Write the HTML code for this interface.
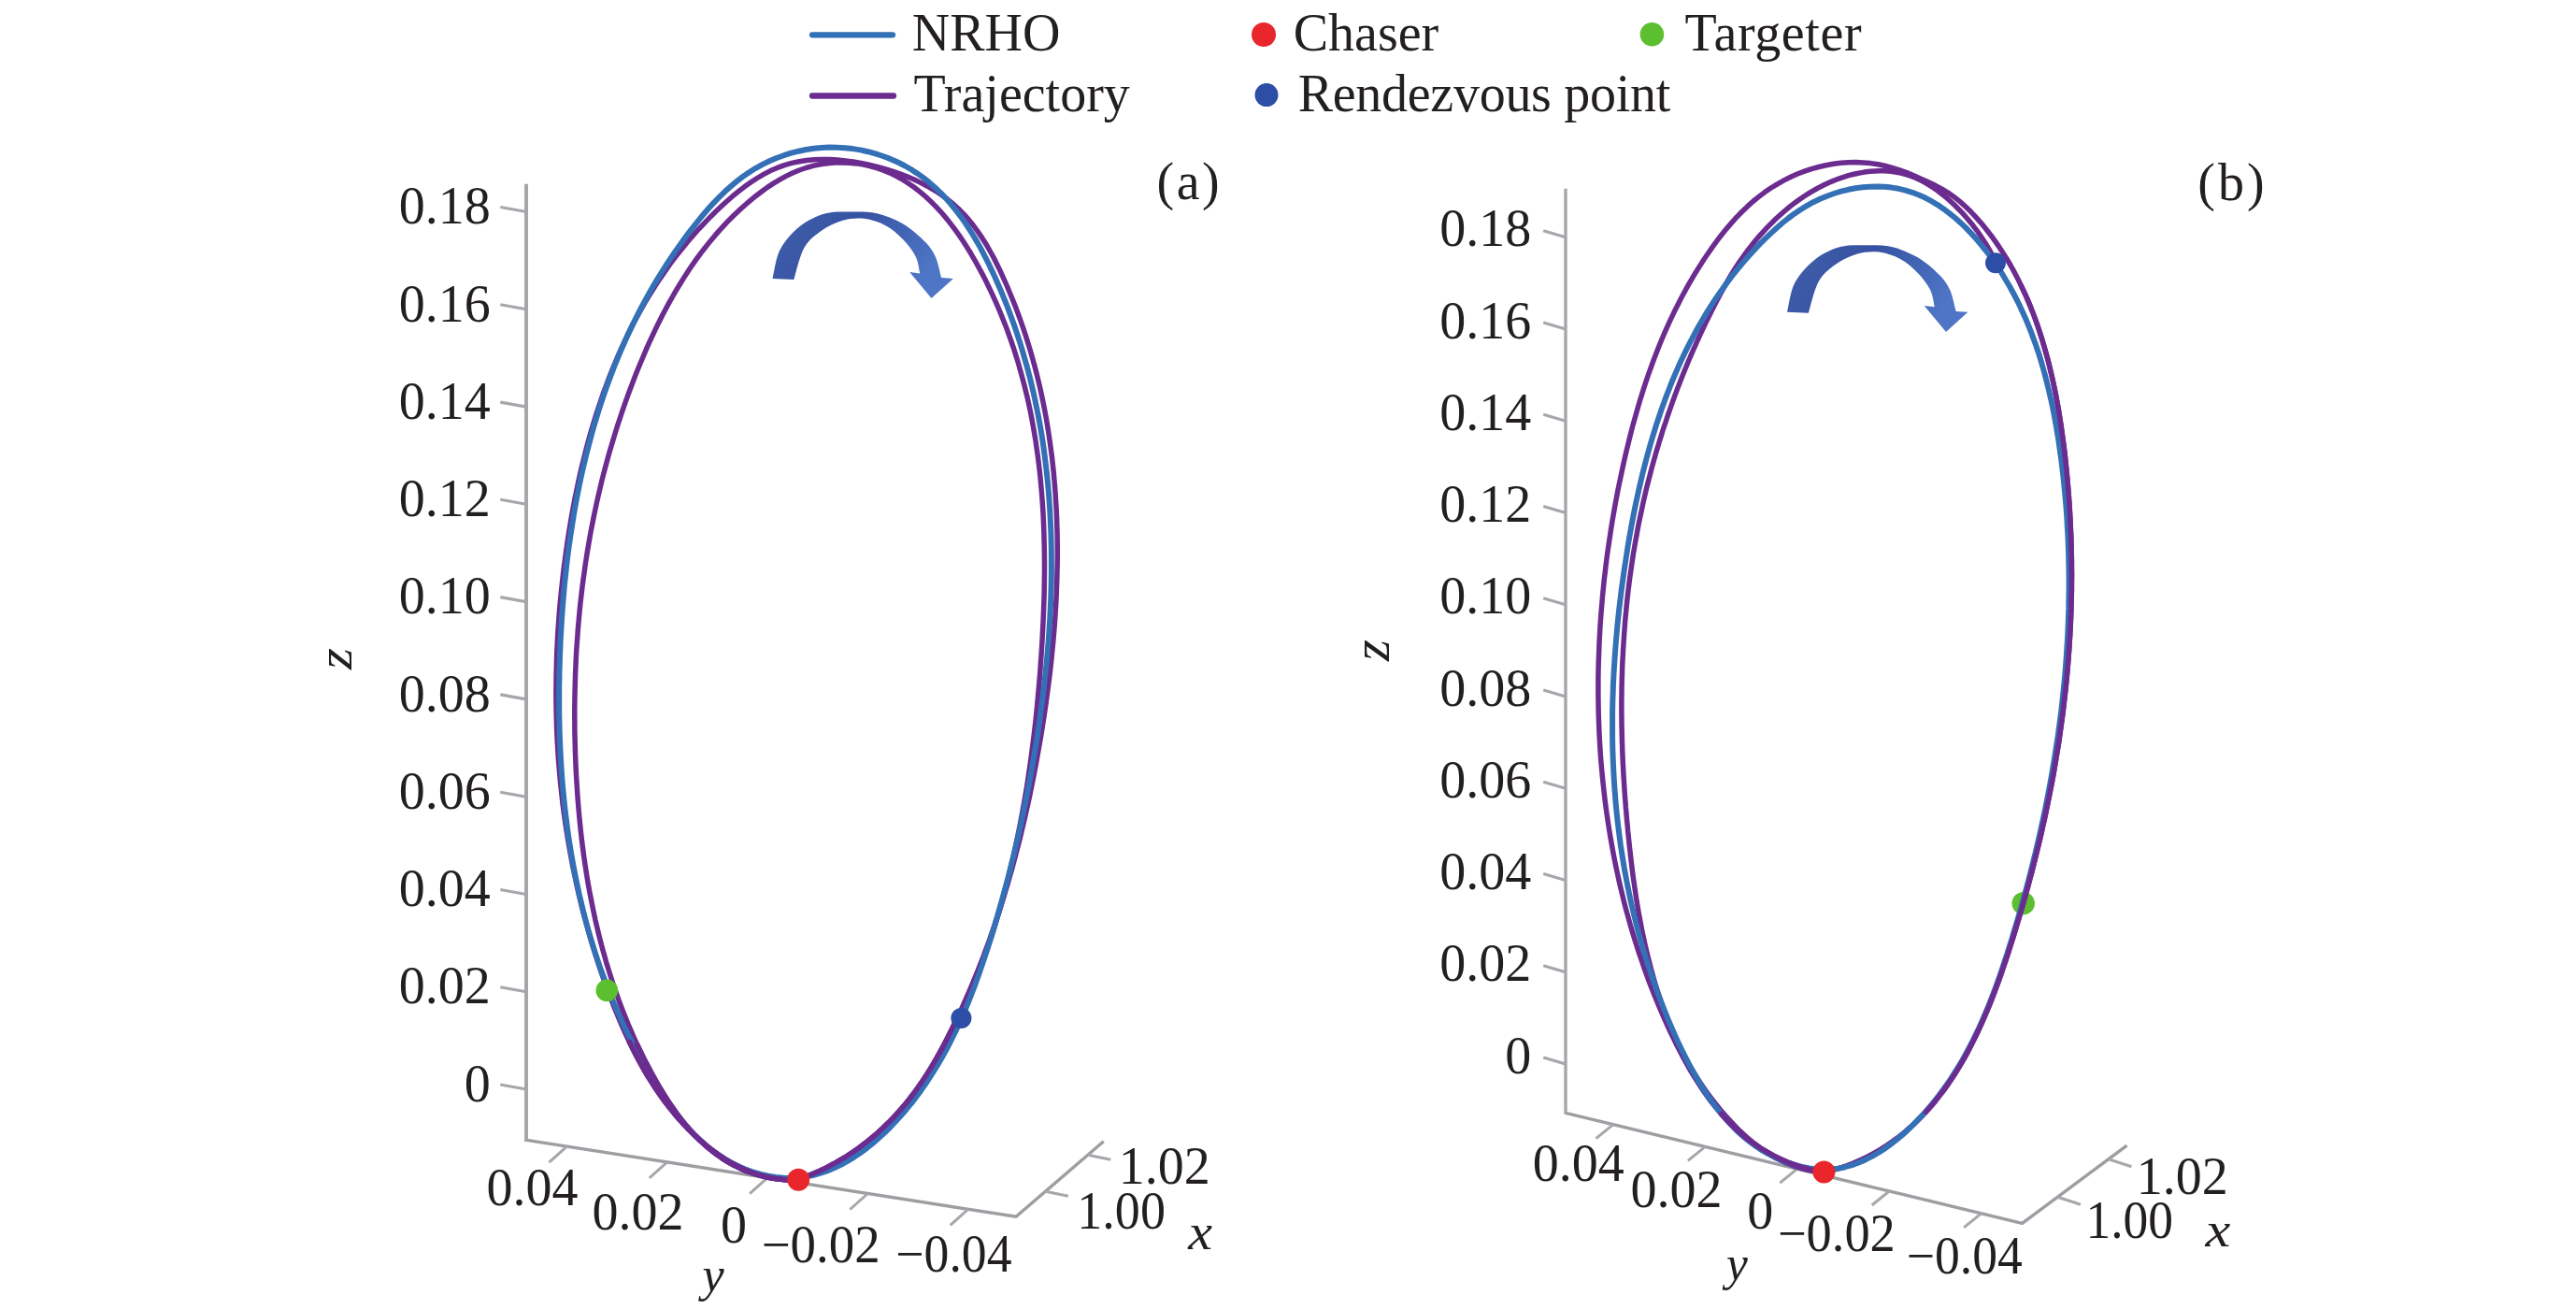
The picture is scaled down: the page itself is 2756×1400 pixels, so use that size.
<!DOCTYPE html><html><head><meta charset="utf-8"><style>html,body{margin:0;padding:0;background:#fff;}svg{display:block;}text{font-family:"Liberation Serif",serif;fill:#231f20;}</style></head><body>
<svg width="2756" height="1400" viewBox="0 0 2756 1400">
<rect width="2756" height="1400" fill="#fff"/>
<line x1="869" y1="37.3" x2="955" y2="37.3" stroke="#3370b5" stroke-width="6.3" stroke-linecap="round"/>
<line x1="869" y1="102.5" x2="956" y2="102.5" stroke="#6c2b8f" stroke-width="6.3" stroke-linecap="round"/>
<text x="975.7" y="54.3" font-size="56">NRHO</text>
<text x="977.6" y="118.8" font-size="56">Trajectory</text>
<circle cx="1352" cy="37" r="13" fill="#e8262b"/>
<text x="1383.7" y="54.3" font-size="56">Chaser</text>
<circle cx="1767.4" cy="36.7" r="12.8" fill="#5cbf2f"/>
<text x="0" y="0" font-size="56" letter-spacing="0.63" transform="translate(1802.50,54.00) scale(1.0000,1.0000)">Targeter</text>
<circle cx="1355" cy="101.6" r="12.5" fill="#2c4ea6"/>
<text x="0" y="0" font-size="56" letter-spacing="-0.28" transform="translate(1388.70,118.80) scale(1.0000,1.0000)">Rendezvous point</text>
<path d="M563.0 196.7 L563.0 1220.9" fill="none" stroke="#a6a7ab" stroke-width="4.0"/>
<path d="M563.5 1219.4 L1087.0 1301.3 L1180.7 1220.7" fill="none" stroke="#9d9ea2" stroke-width="3.4" stroke-linejoin="miter"/>
<line x1="563.0" y1="226.5" x2="535.3" y2="221.5" stroke="#a6a7ab" stroke-width="3.2"/>
<text x="524.8" y="239.2" font-size="56" text-anchor="end">0.18</text>
<line x1="563.0" y1="330.8" x2="535.3" y2="325.8" stroke="#a6a7ab" stroke-width="3.2"/>
<text x="524.8" y="343.5" font-size="56" text-anchor="end">0.16</text>
<line x1="563.0" y1="435.1" x2="535.3" y2="430.1" stroke="#a6a7ab" stroke-width="3.2"/>
<text x="524.8" y="447.8" font-size="56" text-anchor="end">0.14</text>
<line x1="563.0" y1="539.3" x2="535.3" y2="534.3" stroke="#a6a7ab" stroke-width="3.2"/>
<text x="524.8" y="552.0" font-size="56" text-anchor="end">0.12</text>
<line x1="563.0" y1="643.6" x2="535.3" y2="638.6" stroke="#a6a7ab" stroke-width="3.2"/>
<text x="524.8" y="656.3" font-size="56" text-anchor="end">0.10</text>
<line x1="563.0" y1="747.9" x2="535.3" y2="742.9" stroke="#a6a7ab" stroke-width="3.2"/>
<text x="524.8" y="760.6" font-size="56" text-anchor="end">0.08</text>
<line x1="563.0" y1="852.2" x2="535.3" y2="847.2" stroke="#a6a7ab" stroke-width="3.2"/>
<text x="524.8" y="864.9" font-size="56" text-anchor="end">0.06</text>
<line x1="563.0" y1="956.5" x2="535.3" y2="951.5" stroke="#a6a7ab" stroke-width="3.2"/>
<text x="524.8" y="969.2" font-size="56" text-anchor="end">0.04</text>
<line x1="563.0" y1="1060.7" x2="535.3" y2="1055.7" stroke="#a6a7ab" stroke-width="3.2"/>
<text x="524.8" y="1073.4" font-size="56" text-anchor="end">0.02</text>
<line x1="563.0" y1="1165.0" x2="535.3" y2="1160.0" stroke="#a6a7ab" stroke-width="3.2"/>
<text x="524.8" y="1177.7" font-size="56" text-anchor="end">0</text>
<line x1="606.5" y1="1226.1" x2="587.5" y2="1243.1" stroke="#a6a7ab" stroke-width="3"/>
<line x1="713.8" y1="1242.9" x2="694.8" y2="1259.9" stroke="#a6a7ab" stroke-width="3"/>
<line x1="821.1" y1="1259.7" x2="802.1" y2="1276.7" stroke="#a6a7ab" stroke-width="3"/>
<line x1="928.4" y1="1276.5" x2="909.4" y2="1293.5" stroke="#a6a7ab" stroke-width="3"/>
<line x1="1035.7" y1="1293.3" x2="1016.7" y2="1310.3" stroke="#a6a7ab" stroke-width="3"/>
<line x1="1118.5" y1="1274.2" x2="1142.9" y2="1279.2" stroke="#a6a7ab" stroke-width="3"/>
<line x1="1163.9" y1="1235.2" x2="1188.3" y2="1240.2" stroke="#a6a7ab" stroke-width="3"/>
<path d="M1675.0 201.8 L1675.0 1191.8" fill="none" stroke="#a6a7ab" stroke-width="3.4"/>
<path d="M1675.0 1190.3 L2163.5 1308.4 L2275.5 1225.1" fill="none" stroke="#9d9ea2" stroke-width="3.4" stroke-linejoin="miter"/>
<line x1="1675.0" y1="253.8" x2="1651.2" y2="246.8" stroke="#a6a7ab" stroke-width="3.2"/>
<text x="1638.2" y="263.3" font-size="56" text-anchor="end">0.18</text>
<line x1="1675.0" y1="352.0" x2="1651.2" y2="345.0" stroke="#a6a7ab" stroke-width="3.2"/>
<text x="1638.2" y="361.5" font-size="56" text-anchor="end">0.16</text>
<line x1="1675.0" y1="450.3" x2="1651.2" y2="443.3" stroke="#a6a7ab" stroke-width="3.2"/>
<text x="1638.2" y="459.8" font-size="56" text-anchor="end">0.14</text>
<line x1="1675.0" y1="548.5" x2="1651.2" y2="541.5" stroke="#a6a7ab" stroke-width="3.2"/>
<text x="1638.2" y="558.0" font-size="56" text-anchor="end">0.12</text>
<line x1="1675.0" y1="646.8" x2="1651.2" y2="639.8" stroke="#a6a7ab" stroke-width="3.2"/>
<text x="1638.2" y="656.3" font-size="56" text-anchor="end">0.10</text>
<line x1="1675.0" y1="745.0" x2="1651.2" y2="738.0" stroke="#a6a7ab" stroke-width="3.2"/>
<text x="1638.2" y="754.5" font-size="56" text-anchor="end">0.08</text>
<line x1="1675.0" y1="843.2" x2="1651.2" y2="836.2" stroke="#a6a7ab" stroke-width="3.2"/>
<text x="1638.2" y="852.7" font-size="56" text-anchor="end">0.06</text>
<line x1="1675.0" y1="941.5" x2="1651.2" y2="934.5" stroke="#a6a7ab" stroke-width="3.2"/>
<text x="1638.2" y="951.0" font-size="56" text-anchor="end">0.04</text>
<line x1="1675.0" y1="1039.7" x2="1651.2" y2="1032.7" stroke="#a6a7ab" stroke-width="3.2"/>
<text x="1638.2" y="1049.2" font-size="56" text-anchor="end">0.02</text>
<line x1="1675.0" y1="1138.0" x2="1651.2" y2="1131.0" stroke="#a6a7ab" stroke-width="3.2"/>
<text x="1638.2" y="1147.5" font-size="56" text-anchor="end">0</text>
<line x1="1726.0" y1="1202.6" x2="1707.5" y2="1217.6" stroke="#a6a7ab" stroke-width="3"/>
<line x1="1824.4" y1="1226.4" x2="1805.9" y2="1241.4" stroke="#a6a7ab" stroke-width="3"/>
<line x1="1922.8" y1="1250.2" x2="1904.3" y2="1265.2" stroke="#a6a7ab" stroke-width="3"/>
<line x1="2021.2" y1="1274.0" x2="2002.7" y2="1289.0" stroke="#a6a7ab" stroke-width="3"/>
<line x1="2119.6" y1="1297.8" x2="2101.1" y2="1312.8" stroke="#a6a7ab" stroke-width="3"/>
<line x1="2201.4" y1="1280.2" x2="2225.9" y2="1288.2" stroke="#a6a7ab" stroke-width="3"/>
<line x1="2255.9" y1="1239.7" x2="2280.4" y2="1247.7" stroke="#a6a7ab" stroke-width="3"/>
<text x="520.4" y="1289.2" font-size="56">0.04</text>
<text x="633.5" y="1315.2" font-size="56">0.02</text>
<text x="770.9" y="1329.0" font-size="56">0</text>
<text x="1196.8" y="1266.1" font-size="56">1.02</text>
<text x="1639.7" y="1263.2" font-size="56">0.04</text>
<text x="1744.5" y="1291.1" font-size="56">0.02</text>
<text x="1869.2" y="1313.8" font-size="56">0</text>
<text x="2285.8" y="1277.2" font-size="56">1.02</text>
<text x="0" y="0" font-size="56" transform="translate(814.67,1350.40) scale(0.9800,1.0000)">−0.02</text>
<text x="0" y="0" font-size="56" transform="translate(958.33,1359.60) scale(0.9580,1.0000)">−0.04</text>
<text x="0" y="0" font-size="56" transform="translate(1901.89,1338.00) scale(0.9720,1.0000)">−0.02</text>
<text x="0" y="0" font-size="56" transform="translate(2039.73,1362.20) scale(0.9570,1.0000)">−0.04</text>
<text x="0" y="0" font-size="56" transform="translate(1152.35,1314.00) scale(0.9650,1.0000)">1.00</text>
<text x="0" y="0" font-size="56" transform="translate(2231.50,1324.20) scale(0.9550,1.0000)">1.00</text>
<text x="0" y="0" font-size="56" font-style="italic" transform="translate(1271.30,1335.80) scale(1.0360,0.9800)">x</text>
<text x="0" y="0" font-size="56" font-style="italic" transform="translate(2359.50,1332.60) scale(1.0800,0.9400)">x</text>
<text x="0" y="0" font-size="56" font-style="italic" transform="translate(751.40,1381.40) scale(0.9340,0.9290)">y</text>
<text x="0" y="0" font-size="56" font-style="italic" transform="translate(1846.90,1369.40) scale(0.9200,0.9600)">y</text>
<text x="0" y="0" font-size="56" font-style="italic" transform="translate(376.20,716.10) rotate(-90) scale(1.0500,0.9600)">z</text>
<text x="0" y="0" font-size="56" font-style="italic" transform="translate(1485.80,707.00) rotate(-90) scale(1.0500,1.0000)">z</text>
<text x="0" y="0" font-size="56" letter-spacing="2.60" transform="translate(1237.40,212.70) scale(1.0000,1.0000)">(a)</text>
<text x="0" y="0" font-size="56" letter-spacing="3.00" transform="translate(2351.30,213.80) scale(1.0000,1.0000)">(b)</text>
<circle cx="2164.7" cy="966.2" r="12.2" fill="#5cbf2f"/>
<path d="M854.5 1262.0 L845.8 1262.1 L837.4 1261.6 L829.1 1260.6 L821.0 1259.0 L813.0 1256.9 L805.2 1254.3 L797.6 1251.3 L790.2 1247.8 L783.0 1244.0 L776.0 1239.8 L769.1 1235.3 L762.5 1230.5 L756.0 1225.4 L749.7 1220.1 L743.7 1214.6 L737.8 1209.0 L732.1 1203.1 L726.6 1197.1 L721.3 1190.9 L716.2 1184.5 L711.2 1178.1 L706.4 1171.4 L701.8 1164.7 L697.3 1157.8 L692.9 1150.8 L688.7 1143.7 L684.7 1136.5 L680.8 1129.2 L677.0 1121.8 L673.3 1114.3 L669.8 1106.8 L666.3 1099.2 L663.0 1091.5 L659.8 1083.8 L656.7 1076.1 L653.6 1068.3 L650.7 1060.5 L647.8 1052.7 L645.0 1044.9 L642.3 1037.0 L639.7 1029.1 L637.2 1021.3 L634.7 1013.4 L632.3 1005.4 L630.0 997.5 L627.8 989.6 L625.6 981.6 L623.5 973.7 L621.5 965.7 L619.6 957.7 L617.7 949.7 L616.0 941.7 L614.3 933.7 L612.6 925.6 L611.1 917.6 L609.6 909.5 L608.2 901.5 L606.9 893.4 L605.6 885.3 L604.4 877.2 L603.3 869.1 L602.2 861.0 L601.3 852.9 L600.4 844.7 L599.5 836.6 L598.8 828.4 L598.1 820.3 L597.4 812.1 L596.9 804.0 L596.4 795.8 L596.0 787.6 L595.6 779.4 L595.4 771.2 L595.2 763.0 L595.0 754.8 L594.9 746.6 L594.9 738.4 L595.0 730.1 L595.1 721.9 L595.3 713.7 L595.5 705.5 L595.8 697.2 L596.2 689.0 L596.6 680.7 L597.1 672.5 L597.7 664.2 L598.3 656.0 L599.0 647.7 L599.8 639.5 L600.6 631.2 L601.5 623.0 L602.4 614.7 L603.4 606.5 L604.5 598.2 L605.6 590.0 L606.8 581.7 L608.0 573.5 L609.3 565.2 L610.7 557.0 L612.1 548.8 L613.7 540.5 L615.2 532.3 L616.9 524.2 L618.6 516.0 L620.4 507.9 L622.3 499.7 L624.3 491.6 L626.3 483.6 L628.4 475.5 L630.6 467.5 L632.9 459.5 L635.3 451.6 L637.7 443.7 L640.3 435.8 L642.9 428.0 L645.6 420.2 L648.5 412.4 L651.4 404.7 L654.4 397.1 L657.5 389.5 L660.7 381.9 L664.0 374.4 L667.4 367.0 L670.9 359.6 L674.5 352.3 L678.2 345.0 L682.1 337.8 L686.0 330.7 L690.0 323.6 L694.2 316.6 L698.5 309.7 L702.9 302.8 L707.4 296.1 L712.0 289.4 L716.7 282.7 L721.6 276.2 L726.6 269.7 L731.7 263.4 L736.9 257.1 L742.3 250.9 L747.7 244.8 L753.4 238.8 L759.1 232.9 L765.0 227.0 L771.0 221.3 L777.1 215.7 L783.4 210.2 L789.9 204.9 L796.4 199.8 L803.2 195.0 L810.1 190.5 L817.1 186.4 L824.3 182.6 L831.7 179.4 L839.3 176.6 L847.1 174.4 L855.0 172.7 L863.0 171.5 L871.2 170.8 L879.4 170.5 L887.7 170.6 L896.0 171.0 L904.4 171.9 L912.8 173.0 L921.1 174.5 L929.5 176.2 L937.7 178.2 L945.9 180.4 L954.0 182.9 L962.0 185.6 L969.8 188.6 L977.5 191.8 L984.9 195.4 L992.2 199.2 L999.3 203.3 L1006.2 207.8 L1012.8 212.5 L1019.1 217.6 L1025.1 223.0 L1030.8 228.7 L1036.2 234.7 L1041.3 241.0 L1046.1 247.6 L1050.7 254.4 L1055.1 261.3 L1059.2 268.5 L1063.2 275.8 L1066.9 283.3 L1070.6 290.8 L1074.0 298.4 L1077.4 306.0 L1080.6 313.7 L1083.8 321.4 L1086.8 329.1 L1089.7 336.8 L1092.5 344.6 L1095.2 352.4 L1097.7 360.2 L1100.2 368.1 L1102.6 375.9 L1104.8 383.8 L1107.0 391.7 L1109.1 399.7 L1111.0 407.6 L1112.9 415.6 L1114.6 423.6 L1116.3 431.6 L1117.9 439.7 L1119.4 447.7 L1120.7 455.8 L1122.0 463.9 L1123.2 472.0 L1124.3 480.1 L1125.4 488.3 L1126.3 496.4 L1127.2 504.6 L1127.9 512.7 L1128.6 520.9 L1129.2 529.1 L1129.7 537.3 L1130.2 545.5 L1130.6 553.8 L1130.8 562.0 L1131.1 570.2 L1131.2 578.5 L1131.3 586.7 L1131.3 595.0 L1131.2 603.2 L1131.0 611.5 L1130.8 619.7 L1130.5 628.0 L1130.2 636.3 L1129.8 644.5 L1129.3 652.8 L1128.8 661.1 L1128.2 669.3 L1127.5 677.6 L1126.8 685.9 L1126.0 694.1 L1125.2 702.4 L1124.3 710.6 L1123.4 718.9 L1122.4 727.1 L1121.3 735.3 L1120.2 743.6 L1119.1 751.8 L1117.9 760.0 L1116.7 768.2 L1115.4 776.4 L1114.1 784.5 L1112.7 792.7 L1111.3 800.8 L1109.8 809.0 L1108.4 817.1 L1106.8 825.2 L1105.3 833.3 L1103.6 841.4 L1102.0 849.4 L1100.3 857.5 L1098.5 865.5 L1096.7 873.5 L1094.8 881.5 L1092.9 889.5 L1091.0 897.5 L1089.0 905.4 L1086.9 913.4 L1084.8 921.3 L1082.7 929.2 L1080.4 937.1 L1078.2 944.9 L1075.8 952.8 L1073.5 960.6 L1071.0 968.5 L1068.5 976.3 L1065.9 984.0 L1063.3 991.8 L1060.6 999.5 L1057.9 1007.3 L1055.0 1015.0 L1052.2 1022.7 L1049.2 1030.3 L1046.2 1038.0 L1043.1 1045.6 L1039.9 1053.2 L1036.7 1060.8 L1033.4 1068.3 L1030.1 1075.9 L1026.6 1083.4 L1023.1 1090.9 L1019.5 1098.4 L1015.8 1105.8 L1012.1 1113.2 L1008.2 1120.6 L1004.2 1127.8 L1000.1 1135.0 L995.9 1142.1 L991.5 1149.1 L987.0 1156.0 L982.3 1162.8 L977.5 1169.5 L972.5 1176.0 L967.3 1182.4 L961.9 1188.6 L956.4 1194.7 L950.6 1200.6 L944.7 1206.3 L938.7 1211.8 L932.4 1217.1 L926.0 1222.3 L919.5 1227.2 L912.7 1231.9 L905.9 1236.5 L898.9 1240.7 L891.7 1244.8 L884.4 1248.6 L877.0 1252.2 L869.4 1255.5 L861.8 1258.5 L854.0 1261.3" fill="none" stroke="#6c2b8f" stroke-width="5.5" stroke-linecap="round" stroke-linejoin="round"/>
<path d="M855.6 1261.9 L846.6 1261.9 L838.0 1261.4 L829.6 1260.5 L821.6 1259.2 L813.8 1257.4 L806.2 1255.2 L798.9 1252.6 L791.9 1249.6 L785.1 1246.3 L778.5 1242.6 L772.2 1238.6 L766.0 1234.3 L760.1 1229.7 L754.4 1224.8 L748.9 1219.7 L743.6 1214.3 L738.4 1208.7 L733.4 1202.9 L728.6 1196.9 L724.0 1190.8 L719.5 1184.4 L715.1 1178.0 L710.9 1171.4 L706.8 1164.8 L702.9 1158.0 L699.0 1151.2 L695.3 1144.3 L691.6 1137.4 L688.1 1130.4 L684.7 1123.4 L681.3 1116.4 L678.1 1109.3 L675.0 1102.2 L671.9 1095.0 L669.0 1087.8 L666.1 1080.6 L663.3 1073.3 L660.7 1066.0 L658.1 1058.7 L655.6 1051.3 L653.2 1043.9 L650.9 1036.5 L648.6 1029.1 L646.5 1021.6 L644.4 1014.1 L642.4 1006.5 L640.5 999.0 L638.7 991.4 L636.9 983.8 L635.3 976.2 L633.7 968.5 L632.2 960.9 L630.7 953.2 L629.3 945.5 L628.0 937.8 L626.8 930.1 L625.6 922.3 L624.5 914.6 L623.5 906.8 L622.5 899.1 L621.6 891.3 L620.8 883.5 L620.0 875.7 L619.3 867.9 L618.6 860.1 L618.0 852.3 L617.5 844.5 L617.0 836.7 L616.5 828.8 L616.1 821.0 L615.8 813.2 L615.5 805.4 L615.3 797.6 L615.1 789.8 L614.9 782.0 L614.9 774.2 L614.8 766.5 L614.8 758.7 L614.9 750.9 L615.0 743.1 L615.2 735.4 L615.4 727.6 L615.6 719.9 L616.0 712.1 L616.3 704.4 L616.7 696.7 L617.2 689.0 L617.8 681.2 L618.3 673.5 L619.0 665.8 L619.7 658.1 L620.4 650.5 L621.2 642.8 L622.1 635.1 L623.0 627.5 L624.0 619.8 L625.1 612.2 L626.1 604.6 L627.3 596.9 L628.5 589.3 L629.8 581.7 L631.1 574.1 L632.5 566.5 L634.0 559.0 L635.5 551.4 L637.1 543.9 L638.7 536.3 L640.4 528.8 L642.2 521.3 L644.0 513.7 L645.9 506.3 L647.9 498.8 L649.9 491.3 L652.0 483.8 L654.2 476.4 L656.4 468.9 L658.7 461.5 L661.0 454.1 L663.5 446.7 L665.9 439.3 L668.5 431.9 L671.1 424.6 L673.8 417.2 L676.6 409.9 L679.4 402.6 L682.3 395.2 L685.3 388.0 L688.4 380.7 L691.5 373.4 L694.7 366.2 L698.0 359.1 L701.4 351.9 L704.9 344.8 L708.4 337.8 L712.1 330.8 L715.8 323.9 L719.7 317.0 L723.6 310.2 L727.7 303.5 L731.8 296.9 L736.1 290.3 L740.4 283.8 L744.9 277.4 L749.5 271.1 L754.3 265.0 L759.1 258.9 L764.1 252.9 L769.1 247.1 L774.4 241.3 L779.7 235.7 L785.2 230.2 L790.8 224.9 L796.6 219.7 L802.5 214.6 L808.5 209.7 L814.7 205.0 L821.0 200.4 L827.5 196.1 L834.2 192.1 L841.0 188.4 L847.9 185.0 L855.1 182.0 L862.4 179.5 L869.8 177.4 L877.4 175.8 L885.2 174.7 L893.0 174.0 L900.8 173.9 L908.6 174.2 L916.3 174.9 L924.0 176.1 L931.4 177.8 L938.7 179.9 L945.8 182.4 L952.7 185.3 L959.3 188.5 L965.8 192.2 L972.1 196.2 L978.3 200.5 L984.2 205.1 L990.0 210.0 L995.6 215.2 L1001.0 220.6 L1006.3 226.3 L1011.4 232.2 L1016.3 238.3 L1021.1 244.6 L1025.8 251.1 L1030.3 257.7 L1034.6 264.5 L1038.8 271.3 L1042.9 278.3 L1046.8 285.3 L1050.6 292.4 L1054.3 299.6 L1057.8 306.7 L1061.2 313.9 L1064.5 321.2 L1067.7 328.4 L1070.8 335.7 L1073.7 343.0 L1076.6 350.3 L1079.3 357.7 L1081.9 365.0 L1084.4 372.4 L1086.8 379.8 L1089.1 387.3 L1091.2 394.7 L1093.3 402.2 L1095.3 409.7 L1097.2 417.2 L1099.0 424.7 L1100.7 432.3 L1102.3 439.8 L1103.8 447.4 L1105.2 455.0 L1106.5 462.6 L1107.8 470.2 L1108.9 477.8 L1110.0 485.5 L1111.0 493.2 L1111.9 500.8 L1112.8 508.5 L1113.5 516.2 L1114.2 523.9 L1114.8 531.6 L1115.4 539.3 L1115.9 547.1 L1116.3 554.8 L1116.6 562.6 L1116.9 570.3 L1117.1 578.1 L1117.3 585.8 L1117.4 593.6 L1117.5 601.4 L1117.5 609.2 L1117.4 616.9 L1117.3 624.7 L1117.2 632.5 L1117.0 640.3 L1116.7 648.1 L1116.4 655.9 L1116.1 663.7 L1115.7 671.5 L1115.3 679.3 L1114.9 687.0 L1114.4 694.8 L1113.9 702.6 L1113.3 710.4 L1112.8 718.2 L1112.2 725.9 L1111.5 733.7 L1110.8 741.5 L1110.1 749.2 L1109.4 757.0 L1108.6 764.7 L1107.8 772.5 L1106.9 780.2 L1106.0 787.9 L1105.0 795.6 L1104.0 803.4 L1103.0 811.1 L1101.9 818.8 L1100.8 826.4 L1099.7 834.1 L1098.5 841.8 L1097.2 849.5 L1095.9 857.1 L1094.5 864.8 L1093.1 872.4 L1091.7 880.0 L1090.2 887.6 L1088.6 895.2 L1087.0 902.8 L1085.4 910.4 L1083.7 918.0 L1081.9 925.5 L1080.1 933.1 L1078.2 940.6 L1076.3 948.1 L1074.3 955.6 L1072.3 963.1 L1070.2 970.6 L1068.0 978.0 L1065.8 985.5 L1063.5 992.9 L1061.1 1000.3 L1058.7 1007.7 L1056.2 1015.1 L1053.7 1022.5 L1051.1 1029.8 L1048.4 1037.2 L1045.7 1044.5 L1042.8 1051.8 L1040.0 1059.1 L1037.0 1066.3 L1034.0 1073.6 L1030.9 1080.8 L1027.7 1088.0" fill="none" stroke="#6c2b8f" stroke-width="5.5" stroke-linecap="round" stroke-linejoin="round"/>
<path d="M853.9 1259.5 L861.8 1258.5 L869.5 1257.0 L877.2 1254.9 L884.7 1252.4 L892.2 1249.3 L899.5 1245.8 L906.6 1241.9 L913.7 1237.6 L920.5 1233.0 L927.3 1228.0 L933.9 1222.7 L940.3 1217.1 L946.6 1211.3 L952.7 1205.3 L958.6 1199.0 L964.3 1192.7 L969.9 1186.2 L975.3 1179.6 L980.4 1172.9 L985.4 1166.1 L990.2 1159.2 L994.9 1152.2 L999.3 1145.2 L1003.6 1138.1 L1007.8 1130.9 L1011.8 1123.7 L1015.7 1116.4 L1019.4 1109.0 L1023.0 1101.6 L1026.5 1094.1 L1029.8 1086.5 L1033.1 1079.0 L1036.2 1071.3 L1039.2 1063.7 L1042.2 1056.0 L1045.0 1048.2 L1047.8 1040.4 L1050.5 1032.6 L1053.1 1024.8 L1055.7 1017.0 L1058.2 1009.1 L1060.7 1001.3 L1063.1 993.4 L1065.4 985.5 L1067.7 977.6 L1070.0 969.7 L1072.2 961.8 L1074.4 953.9 L1076.6 945.9 L1078.7 938.0 L1080.7 930.0 L1082.7 922.0 L1084.7 914.1 L1086.6 906.1 L1088.5 898.1 L1090.3 890.1 L1092.1 882.0 L1093.8 874.0 L1095.5 865.9 L1097.2 857.9 L1098.8 849.8 L1100.4 841.7 L1101.9 833.6 L1103.4 825.5 L1104.8 817.3 L1106.2 809.2 L1107.6 801.0 L1108.9 792.9 L1110.2 784.7 L1111.4 776.5 L1112.6 768.3 L1113.7 760.0 L1114.8 751.8 L1115.8 743.5 L1116.8 735.3 L1117.8 727.0 L1118.7 718.7 L1119.5 710.5 L1120.3 702.2 L1121.0 693.9 L1121.7 685.6 L1122.3 677.3 L1122.8 669.0 L1123.3 660.7 L1123.7 652.3 L1124.1 644.0 L1124.4 635.7 L1124.6 627.4 L1124.8 619.1 L1124.9 610.8 L1124.9 602.5 L1124.9 594.2 L1124.8 585.9 L1124.6 577.6 L1124.4 569.3 L1124.0 561.0 L1123.6 552.7 L1123.2 544.5 L1122.6 536.2 L1122.0 527.9 L1121.3 519.7 L1120.5 511.5 L1119.6 503.2 L1118.6 495.0 L1117.6 486.8 L1116.5 478.7 L1115.3 470.5 L1114.0 462.3 L1112.6 454.2 L1111.1 446.1 L1109.5 438.0 L1107.8 429.9 L1106.1 421.8 L1104.2 413.8 L1102.3 405.8 L1100.2 397.8 L1098.1 389.8 L1095.8 381.8 L1093.5 373.9 L1091.1 366.0 L1088.5 358.1 L1085.9 350.2 L1083.1 342.4 L1080.2 334.6 L1077.3 326.8 L1074.2 319.1 L1071.0 311.4 L1067.7 303.7 L1064.3 296.0 L1060.7 288.4 L1057.1 280.8 L1053.3 273.3 L1049.4 265.9 L1045.3 258.6 L1041.1 251.5 L1036.6 244.4 L1032.1 237.5 L1027.3 230.8 L1022.3 224.3 L1017.1 218.0 L1011.8 211.9 L1006.2 206.1 L1000.3 200.5 L994.2 195.2 L987.9 190.1 L981.3 185.4 L974.5 181.0 L967.4 177.0 L960.0 173.3 L952.4 169.9 L944.7 167.0 L936.7 164.4 L928.6 162.2 L920.5 160.4 L912.2 159.1 L903.9 158.2 L895.6 157.7 L887.3 157.6 L879.0 158.0 L870.7 158.8 L862.5 160.0 L854.4 161.7 L846.4 163.7 L838.6 166.2 L830.8 169.0 L823.2 172.3 L815.8 175.9 L808.6 179.8 L801.6 184.2 L794.8 188.9 L788.3 193.9 L781.9 199.2 L775.7 204.8 L769.7 210.6 L763.9 216.6 L758.2 222.8 L752.7 229.2 L747.4 235.7 L742.1 242.3 L737.0 248.9 L732.0 255.6 L727.1 262.4 L722.3 269.2 L717.6 276.1 L713.0 283.0 L708.6 290.0 L704.2 297.1 L700.0 304.1 L695.8 311.3 L691.8 318.5 L687.9 325.7 L684.0 333.0 L680.3 340.3 L676.7 347.6 L673.1 355.1 L669.7 362.5 L666.4 370.0 L663.1 377.5 L660.0 385.1 L656.9 392.7 L654.0 400.4 L651.1 408.1 L648.3 415.8 L645.6 423.5 L643.0 431.3 L640.5 439.1 L638.1 447.0 L635.7 454.9 L633.4 462.8 L631.3 470.7 L629.2 478.7 L627.1 486.7 L625.2 494.7 L623.3 502.8 L621.5 510.8 L619.8 518.9 L618.2 527.0 L616.6 535.2 L615.1 543.3 L613.7 551.5 L612.4 559.7 L611.1 567.9 L609.9 576.1 L608.7 584.3 L607.6 592.6 L606.6 600.9 L605.7 609.1 L604.8 617.4 L603.9 625.7 L603.2 634.0 L602.5 642.3 L601.8 650.7 L601.2 659.0 L600.7 667.3 L600.2 675.6 L599.7 684.0 L599.4 692.3 L599.0 700.7 L598.8 709.0 L598.5 717.3 L598.4 725.7 L598.2 734.0 L598.2 742.3 L598.2 750.7 L598.2 759.0 L598.3 767.3 L598.5 775.6 L598.7 783.9 L599.0 792.2 L599.4 800.5 L599.8 808.8 L600.3 817.1 L600.8 825.3 L601.4 833.6 L602.1 841.8 L602.9 850.1 L603.7 858.3 L604.6 866.5 L605.6 874.7 L606.6 882.9 L607.7 891.0 L608.9 899.2 L610.2 907.3 L611.5 915.4 L613.0 923.5 L614.5 931.6 L616.1 939.7 L617.8 947.7 L619.5 955.7 L621.4 963.7 L623.3 971.7 L625.3 979.7 L627.4 987.6 L629.6 995.5 L631.9 1003.4 L634.3 1011.2 L636.8 1019.1 L639.4 1026.9 L642.0 1034.7 L644.8 1042.4 L647.7 1050.1 L650.6 1057.8 L653.7 1065.5 L656.9 1073.1 L660.1 1080.7 L663.5 1088.3 L667.0 1095.9 L670.6 1103.4 L674.2 1110.8 L678.0 1118.3 L682.0 1125.7 L686.0 1133.0 L690.1 1140.4 L694.3 1147.7 L698.7 1154.9 L703.2 1162.1 L707.8 1169.3 L712.5 1176.3 L717.4 1183.2 L722.5 1189.9 L727.7 1196.5 L733.1 1202.9 L738.6 1209.0 L744.4 1215.0 L750.4 1220.6 L756.5 1226.0 L762.9 1231.1 L769.6 1235.8 L776.4 1240.2 L783.5 1244.2 L790.9 1247.8 L798.4 1250.9 L806.1 1253.7 L814.0 1255.9 L821.9 1257.7 L829.9 1258.9 L838.0 1259.7 L846.0 1259.9 L853.9 1259.5Z" fill="none" stroke="#3370b5" stroke-width="6.0" stroke-linecap="round" stroke-linejoin="round"/>
<path d="M854.5 1262.0 L845.8 1262.1 L837.4 1261.6 L829.1 1260.6 L821.0 1259.0 L813.0 1256.9 L805.2 1254.3 L797.6 1251.3 L790.2 1247.8 L783.0 1244.0 L776.0 1239.8 L769.1 1235.3 L762.5 1230.5 L756.0 1225.4 L749.7 1220.1 L743.7 1214.6 L737.8 1209.0 L732.1 1203.1 L726.6 1197.1 L721.3 1190.9 L716.2 1184.5 L711.2 1178.1 L706.4 1171.4 L701.8 1164.7 L697.3 1157.8 L692.9 1150.8 L688.7 1143.7 L684.7 1136.5 L680.8 1129.2 L677.0 1121.8 L673.3 1114.3" fill="none" stroke="#6c2b8f" stroke-width="5.5" stroke-linecap="round" stroke-linejoin="round"/>
<path d="M855.6 1261.9 L846.6 1261.9 L838.0 1261.4 L829.6 1260.5 L821.6 1259.2 L813.8 1257.4 L806.2 1255.2 L798.9 1252.6 L791.9 1249.6 L785.1 1246.3 L778.5 1242.6 L772.2 1238.6 L766.0 1234.3 L760.1 1229.7 L754.4 1224.8 L748.9 1219.7 L743.6 1214.3 L738.4 1208.7 L733.4 1202.9 L728.6 1196.9 L724.0 1190.8 L719.5 1184.4 L715.1 1178.0 L710.9 1171.4 L706.8 1164.8 L702.9 1158.0 L699.0 1151.2 L695.3 1144.3 L691.6 1137.4 L688.1 1130.4 L684.7 1123.4 L681.3 1116.4" fill="none" stroke="#6c2b8f" stroke-width="5.5" stroke-linecap="round" stroke-linejoin="round"/>
<path d="M1026.6 1083.4 L1023.1 1090.9 L1019.5 1098.4 L1015.8 1105.8 L1012.1 1113.2 L1008.2 1120.6 L1004.2 1127.8 L1000.1 1135.0 L995.9 1142.1 L991.5 1149.1 L987.0 1156.0 L982.3 1162.8 L977.5 1169.5 L972.5 1176.0 L967.3 1182.4 L961.9 1188.6 L956.4 1194.7 L950.6 1200.6 L944.7 1206.3 L938.7 1211.8 L932.4 1217.1 L926.0 1222.3 L919.5 1227.2 L912.7 1231.9 L905.9 1236.5 L898.9 1240.7 L891.7 1244.8 L884.4 1248.6 L877.0 1252.2 L869.4 1255.5 L861.8 1258.5 L854.0 1261.3" fill="none" stroke="#6c2b8f" stroke-width="5.5" stroke-linecap="round" stroke-linejoin="round"/>
<path d="M1951.3 1254.0 L1943.5 1252.5 L1935.7 1250.7 L1928.0 1248.5 L1920.3 1245.9 L1912.7 1243.0 L1905.2 1239.7 L1897.9 1236.1 L1890.8 1232.2 L1883.8 1228.0 L1877.1 1223.5 L1870.6 1218.8 L1864.4 1213.8 L1858.4 1208.5 L1852.6 1203.0 L1847.0 1197.3 L1841.6 1191.4 L1836.4 1185.3 L1831.4 1179.0 L1826.6 1172.5 L1821.9 1165.9 L1817.4 1159.1 L1813.1 1152.3 L1808.8 1145.3 L1804.8 1138.2 L1800.8 1131.0 L1797.0 1123.8 L1793.3 1116.4 L1789.7 1109.1 L1786.2 1101.7 L1782.8 1094.3 L1779.5 1086.9 L1776.3 1079.4 L1773.1 1071.9 L1770.1 1064.5 L1767.1 1056.9 L1764.2 1049.4 L1761.4 1041.9 L1758.7 1034.3 L1756.1 1026.7 L1753.5 1019.1 L1751.0 1011.5 L1748.6 1003.8 L1746.3 996.1 L1744.0 988.4 L1741.9 980.7 L1739.7 973.0 L1737.7 965.2 L1735.8 957.4 L1733.9 949.6 L1732.1 941.8 L1730.4 934.0 L1728.7 926.1 L1727.1 918.2 L1725.6 910.3 L1724.2 902.4 L1722.8 894.5 L1721.5 886.6 L1720.3 878.6 L1719.1 870.7 L1718.0 862.7 L1717.0 854.7 L1716.1 846.7 L1715.2 838.7 L1714.4 830.7 L1713.6 822.6 L1712.9 814.6 L1712.3 806.6 L1711.8 798.5 L1711.3 790.4 L1710.9 782.4 L1710.6 774.3 L1710.3 766.2 L1710.1 758.1 L1710.0 750.1 L1709.9 742.0 L1709.9 733.9 L1709.9 725.8 L1710.0 717.7 L1710.2 709.6 L1710.5 701.5 L1710.8 693.4 L1711.1 685.3 L1711.6 677.2 L1712.0 669.1 L1712.6 661.0 L1713.2 653.0 L1713.9 644.9 L1714.6 636.8 L1715.4 628.7 L1716.2 620.7 L1717.2 612.6 L1718.1 604.6 L1719.1 596.5 L1720.2 588.5 L1721.4 580.5 L1722.6 572.5 L1723.8 564.5 L1725.1 556.5 L1726.5 548.5 L1727.9 540.5 L1729.4 532.6 L1730.9 524.6 L1732.5 516.7 L1734.2 508.8 L1735.9 500.9 L1737.6 493.0 L1739.4 485.2 L1741.3 477.3 L1743.2 469.5 L1745.2 461.7 L1747.2 453.9 L1749.4 446.2 L1751.6 438.4 L1753.8 430.7 L1756.2 423.1 L1758.6 415.4 L1761.1 407.8 L1763.7 400.2 L1766.4 392.7 L1769.1 385.2 L1772.0 377.7 L1774.9 370.2 L1778.0 362.8 L1781.1 355.5 L1784.4 348.2 L1787.7 340.9 L1791.2 333.6 L1794.8 326.5 L1798.4 319.3 L1802.2 312.2 L1806.1 305.2 L1810.2 298.2 L1814.3 291.2 L1818.6 284.4 L1823.0 277.5 L1827.6 270.8 L1832.2 264.1 L1837.1 257.4 L1842.0 251.0 L1847.2 244.6 L1852.5 238.4 L1857.9 232.4 L1863.6 226.5 L1869.4 220.9 L1875.4 215.5 L1881.7 210.4 L1888.1 205.6 L1894.7 201.0 L1901.6 196.8 L1908.6 192.9 L1915.8 189.3 L1923.1 186.0 L1930.6 183.2 L1938.2 180.6 L1945.9 178.5 L1953.7 176.7 L1961.6 175.3 L1969.5 174.3 L1977.4 173.7 L1985.4 173.6 L1993.4 173.9 L2001.3 174.6 L2009.3 175.8 L2017.2 177.5 L2025.0 179.6 L2032.8 182.1 L2040.5 184.9 L2048.1 188.1 L2055.7 191.4 L2063.1 194.8 L2070.5 198.3 L2077.6 202.1 L2084.5 206.3 L2091.0 210.9 L2097.2 215.9 L2103.2 221.2 L2108.9 226.8 L2114.3 232.6 L2119.6 238.6 L2124.6 244.8 L2129.5 251.0 L2134.2 257.4 L2138.7 263.9 L2143.0 270.5 L2147.2 277.2 L2151.2 284.0 L2155.0 290.9 L2158.7 298.0 L2162.2 305.1 L2165.6 312.3 L2168.9 319.6 L2171.9 326.9 L2174.9 334.4 L2177.7 341.9 L2180.4 349.5 L2182.9 357.2 L2185.3 364.9 L2187.6 372.7 L2189.8 380.5 L2191.9 388.4 L2193.8 396.3 L2195.7 404.3 L2197.4 412.3 L2199.1 420.4 L2200.6 428.4 L2202.1 436.5 L2203.4 444.6 L2204.7 452.8 L2205.9 460.9 L2207.0 469.1 L2208.1 477.2 L2209.1 485.4 L2210.0 493.5 L2210.8 501.7 L2211.6 509.8 L2212.3 518.0 L2213.0 526.1 L2213.6 534.2 L2214.2 542.3 L2214.6 550.4 L2215.1 558.5 L2215.4 566.5 L2215.8 574.6 L2216.0 582.6 L2216.2 590.7 L2216.4 598.7 L2216.4 606.7 L2216.5 614.8 L2216.4 622.8 L2216.4 630.8 L2216.2 638.8 L2216.0 646.7 L2215.8 654.7 L2215.5 662.7 L2215.1 670.7 L2214.7 678.6 L2214.2 686.6 L2213.7 694.5 L2213.1 702.5 L2212.5 710.4 L2211.8 718.3 L2211.1 726.3 L2210.3 734.2 L2209.4 742.1 L2208.5 750.0 L2207.6 757.9 L2206.6 765.9 L2205.5 773.8 L2204.4 781.7 L2203.3 789.6 L2202.1 797.5 L2200.8 805.4 L2199.5 813.2 L2198.2 821.1 L2196.8 829.0 L2195.3 836.9 L2193.8 844.8 L2192.2 852.7 L2190.6 860.6 L2189.0 868.4 L2187.3 876.3 L2185.5 884.2 L2183.8 892.1 L2181.9 900.0 L2180.0 907.8 L2178.1 915.7 L2176.1 923.6 L2174.1 931.5 L2172.0 939.4 L2169.9 947.3 L2167.7 955.2 L2165.5 963.1 L2163.3 970.9 L2161.0 978.8 L2158.6 986.7 L2156.2 994.6 L2153.8 1002.6 L2151.3 1010.5 L2148.8 1018.4 L2146.2 1026.3 L2143.5 1034.1 L2140.8 1042.0 L2138.1 1049.8 L2135.2 1057.6 L2132.3 1065.3 L2129.3 1073.0 L2126.1 1080.6 L2122.9 1088.2 L2119.6 1095.7 L2116.2 1103.1 L2112.7 1110.4 L2109.1 1117.6 L2105.4 1124.8 L2101.5 1131.8 L2097.5 1138.7 L2093.4 1145.5 L2089.1 1152.2 L2084.7 1158.8 L2080.2 1165.2 L2075.4 1171.4 L2070.6 1177.6 L2065.6 1183.5 L2060.4 1189.3 L2055.0 1195.0 L2049.5 1200.4 L2043.7 1205.7 L2037.8 1210.8 L2031.7 1215.6 L2025.4 1220.3 L2018.9 1224.8 L2012.2 1229.1 L2005.3 1233.1 L1998.2 1236.9 L1990.8 1240.4 L1983.3 1243.8 L1975.5 1246.8 L1967.4 1249.7 L1959.2 1252.2 L1950.6 1254.5" fill="none" stroke="#6c2b8f" stroke-width="5.5" stroke-linecap="round" stroke-linejoin="round"/>
<path d="M1951.8 1253.3 L1946.8 1253.0 L1941.8 1252.5 L1936.9 1251.7 L1932.1 1250.8 L1927.4 1249.6 L1922.7 1248.3 L1918.2 1246.7 L1913.7 1245.0 L1909.2 1243.1 L1904.9 1241.1 L1900.6 1238.9 L1896.4 1236.5 L1892.3 1234.0 L1888.3 1231.4 L1884.3 1228.6 L1880.4 1225.7 L1876.5 1222.8 L1872.8 1219.7 L1869.1 1216.5 L1865.5 1213.2 L1861.9 1209.9 L1858.4 1206.5 L1855.0 1203.0 L1851.7 1199.5 L1848.4 1195.9 L1845.2 1192.3 L1842.0 1188.7 L1839.0 1185.0 L1836.0 1181.3 L1833.0 1177.5 L1830.1 1173.7 L1827.3 1169.9 L1824.5 1166.0 L1821.8 1162.1 L1819.2 1158.2 L1816.6 1154.2 L1814.1 1150.2 L1811.6 1146.2 L1809.2 1142.1 L1806.9 1138.0 L1804.6 1133.9 L1802.3 1129.7 L1800.1 1125.5 L1798.0 1121.3 L1795.9 1117.1 L1793.9 1112.8 L1791.9 1108.5 L1790.0 1104.2 L1788.1 1099.8 L1786.3 1095.5 L1784.5 1091.1 L1782.8 1086.7 L1781.1 1082.2 L1779.4 1077.7 L1777.8 1073.3 L1776.3 1068.8 L1774.7 1064.2 L1773.3 1059.7 L1771.8 1055.1 L1770.4 1050.5 L1769.1 1045.9 L1767.8 1041.3 L1766.5 1036.7 L1765.3 1032.0 L1764.1 1027.3 L1762.9 1022.7 L1761.8 1018.0 L1760.7 1013.3 L1759.6 1008.5 L1758.6 1003.8 L1757.6 999.1 L1756.6 994.3 L1755.7 989.5 L1754.8 984.8 L1753.9 980.0 L1753.0 975.2 L1752.2 970.4 L1751.4 965.6 L1750.6 960.7 L1749.9 955.9 L1749.2 951.1 L1748.5 946.3 L1747.8 941.4 L1747.1 936.6 L1746.5 931.8 L1745.9 926.9 L1745.3 922.1 L1744.7 917.2 L1744.2 912.4 L1743.6 907.5 L1743.1 902.7 L1742.6 897.8 L1742.1 893.0 L1741.6 888.2 L1741.2 883.3 L1740.7 878.5 L1740.3 873.7 L1739.9 868.8 L1739.4 864.0 L1739.1 859.2 L1738.7 854.4 L1738.3 849.5 L1738.0 844.7 L1737.7 839.9 L1737.4 835.1 L1737.1 830.3 L1736.8 825.5 L1736.6 820.7 L1736.3 815.8 L1736.1 811.0 L1735.9 806.2 L1735.7 801.4 L1735.6 796.6 L1735.4 791.8 L1735.3 787.0 L1735.2 782.3 L1735.1 777.5 L1735.0 772.7 L1735.0 767.9 L1734.9 763.1 L1734.9 758.3 L1734.9 753.5 L1734.9 748.8 L1735.0 744.0 L1735.0 739.2 L1735.1 734.4 L1735.2 729.7 L1735.3 724.9 L1735.5 720.1 L1735.6 715.4 L1735.8 710.6 L1736.0 705.9 L1736.3 701.1 L1736.5 696.3 L1736.8 691.6 L1737.1 686.8 L1737.4 682.1 L1737.7 677.3 L1738.1 672.6 L1738.4 667.8 L1738.8 663.1 L1739.2 658.4 L1739.7 653.6 L1740.1 648.9 L1740.6 644.1 L1741.1 639.4 L1741.7 634.7 L1742.2 630.0 L1742.8 625.2 L1743.4 620.5 L1744.0 615.8 L1744.7 611.1 L1745.4 606.3 L1746.1 601.6 L1746.8 596.9 L1747.5 592.2 L1748.3 587.5 L1749.1 582.8 L1749.9 578.1 L1750.8 573.4 L1751.6 568.7 L1752.5 563.9 L1753.4 559.2 L1754.4 554.6 L1755.4 549.9 L1756.4 545.2 L1757.4 540.5 L1758.4 535.8 L1759.5 531.1 L1760.6 526.4 L1761.7 521.7 L1762.9 517.0 L1764.1 512.3 L1765.3 507.7 L1766.5 503.0 L1767.8 498.3 L1769.1 493.6 L1770.4 489.0 L1771.7 484.3 L1773.1 479.6 L1774.5 475.0 L1775.9 470.3 L1777.4 465.7 L1778.8 461.0 L1780.3 456.4 L1781.9 451.8 L1783.4 447.1 L1785.0 442.5 L1786.6 437.9 L1788.2 433.3 L1789.8 428.7 L1791.5 424.2 L1793.2 419.6 L1794.9 415.0 L1796.7 410.5 L1798.4 406.0 L1800.2 401.5 L1802.0 397.0 L1803.9 392.5 L1805.7 388.0 L1807.6 383.5 L1809.5 379.1 L1811.4 374.7 L1813.4 370.3 L1815.3 365.9 L1817.3 361.5 L1819.3 357.2 L1821.3 352.8 L1823.4 348.5 L1825.4 344.2 L1827.5 340.0 L1829.6 335.7 L1831.7 331.5 L1833.9 327.3 L1836.0 323.1 L1838.2 318.9 L1840.4 314.8 L1842.6 310.7 L1844.9 306.6 L1847.1 302.6 L1849.5 298.5 L1851.9 294.5 L1854.3 290.5 L1856.8 286.5 L1859.4 282.6 L1862.1 278.6 L1864.8 274.7 L1867.6 270.8 L1870.5 266.9 L1873.5 263.1 L1876.5 259.3 L1879.6 255.6 L1882.8 251.9 L1886.1 248.3 L1889.4 244.7 L1892.8 241.1 L1896.2 237.7 L1899.7 234.3 L1903.3 231.0 L1907.0 227.7 L1910.7 224.5 L1914.4 221.4 L1918.3 218.4 L1922.2 215.5 L1926.1 212.7 L1930.1 210.0 L1934.2 207.4 L1938.3 204.9 L1942.5 202.5 L1946.7 200.2 L1951.0 198.0 L1955.3 196.0 L1959.7 194.1 L1964.2 192.3 L1968.7 190.6 L1973.2 189.1 L1977.8 187.7 L1982.4 186.5 L1987.0 185.5 L1991.7 184.6 L1996.4 183.8 L2001.1 183.3 L2005.8 182.9 L2010.5 182.8 L2015.2 182.8 L2019.8 183.1 L2024.5 183.5 L2029.1 184.2 L2033.7 185.1 L2038.2 186.3 L2042.7 187.7 L2047.2 189.3 L2051.6 191.2 L2055.9 193.3 L2060.1 195.6 L2064.3 198.1 L2068.4 200.8 L2072.4 203.6 L2076.3 206.5 L2080.2 209.6 L2083.9 212.7 L2087.5 216.0 L2091.1 219.3 L2094.5 222.7 L2097.9 226.2 L2101.2 229.7 L2104.3 233.3 L2107.4 236.9 L2110.4 240.6 L2113.3 244.4 L2116.2 248.2 L2118.9 252.1 L2121.5 256.0 L2124.1 260.0 L2126.6 264.1 L2128.9 268.2 L2131.2 272.4 L2133.4 276.6 L2135.5 280.9" fill="none" stroke="#6c2b8f" stroke-width="5.5" stroke-linecap="round" stroke-linejoin="round"/>
<path d="M1951.2 1250.9 L1958.9 1250.6 L1966.5 1249.7 L1973.9 1248.2 L1981.3 1246.1 L1988.5 1243.5 L1995.6 1240.4 L2002.6 1236.9 L2009.4 1233.0 L2016.0 1228.7 L2022.5 1224.0 L2028.9 1219.1 L2035.1 1213.9 L2041.1 1208.5 L2046.9 1202.9 L2052.5 1197.2 L2058.0 1191.4 L2063.2 1185.4 L2068.3 1179.3 L2073.2 1173.2 L2077.9 1166.9 L2082.5 1160.5 L2086.9 1154.1 L2091.2 1147.5 L2095.3 1140.9 L2099.3 1134.2 L2103.1 1127.4 L2106.8 1120.5 L2110.4 1113.6 L2113.8 1106.6 L2117.2 1099.5 L2120.4 1092.4 L2123.5 1085.2 L2126.6 1078.0 L2129.5 1070.7 L2132.3 1063.4 L2135.1 1056.0 L2137.8 1048.6 L2140.4 1041.2 L2142.9 1033.7 L2145.4 1026.3 L2147.8 1018.8 L2150.2 1011.2 L2152.6 1003.7 L2154.8 996.2 L2157.1 988.6 L2159.3 981.1 L2161.5 973.5 L2163.6 965.9 L2165.7 958.3 L2167.8 950.8 L2169.8 943.2 L2171.8 935.6 L2173.7 928.0 L2175.6 920.3 L2177.5 912.7 L2179.3 905.1 L2181.1 897.5 L2182.8 889.8 L2184.5 882.2 L2186.2 874.5 L2187.8 866.9 L2189.3 859.2 L2190.8 851.5 L2192.3 843.9 L2193.7 836.2 L2195.1 828.5 L2196.4 820.8 L2197.7 813.1 L2198.9 805.4 L2200.1 797.7 L2201.3 790.0 L2202.4 782.3 L2203.4 774.6 L2204.4 766.8 L2205.4 759.1 L2206.3 751.4 L2207.1 743.6 L2207.9 735.9 L2208.7 728.1 L2209.4 720.4 L2210.0 712.6 L2210.6 704.8 L2211.1 697.1 L2211.6 689.3 L2212.1 681.5 L2212.4 673.7 L2212.8 666.0 L2213.0 658.2 L2213.3 650.4 L2213.4 642.6 L2213.5 634.8 L2213.6 627.0 L2213.6 619.2 L2213.5 611.4 L2213.4 603.6 L2213.2 595.8 L2213.0 587.9 L2212.7 580.1 L2212.4 572.3 L2211.9 564.5 L2211.5 556.6 L2211.0 548.8 L2210.4 541.0 L2209.7 533.2 L2209.0 525.3 L2208.2 517.5 L2207.4 509.6 L2206.5 501.8 L2205.6 494.0 L2204.5 486.1 L2203.4 478.3 L2202.3 470.4 L2201.0 462.6 L2199.7 454.8 L2198.3 447.0 L2196.8 439.3 L2195.2 431.5 L2193.5 423.8 L2191.7 416.1 L2189.8 408.5 L2187.8 400.8 L2185.7 393.3 L2183.5 385.7 L2181.2 378.2 L2178.7 370.8 L2176.1 363.4 L2173.4 356.1 L2170.5 348.8 L2167.5 341.6 L2164.3 334.5 L2161.1 327.4 L2157.6 320.4 L2154.0 313.5 L2150.3 306.7 L2146.3 299.9 L2142.3 293.2 L2138.0 286.7 L2133.6 280.2 L2129.0 273.8 L2124.2 267.5 L2119.2 261.3 L2114.1 255.3 L2108.7 249.4 L2103.2 243.7 L2097.5 238.2 L2091.7 233.0 L2085.6 228.1 L2079.4 223.4 L2073.0 219.1 L2066.5 215.2 L2059.8 211.6 L2052.9 208.5 L2045.8 205.8 L2038.6 203.6 L2031.3 201.8 L2023.8 200.6 L2016.1 199.8 L2008.4 199.5 L2000.7 199.7 L1992.9 200.3 L1985.1 201.3 L1977.4 202.8 L1969.7 204.7 L1962.1 207.0 L1954.6 209.7 L1947.2 212.8 L1940.0 216.2 L1933.0 220.1 L1926.2 224.2 L1919.6 228.7 L1913.2 233.5 L1906.9 238.5 L1900.9 243.7 L1895.0 249.1 L1889.2 254.6 L1883.6 260.2 L1878.1 265.9 L1872.8 271.7 L1867.6 277.6 L1862.5 283.5 L1857.5 289.6 L1852.7 295.7 L1848.0 301.9 L1843.4 308.2 L1839.0 314.5 L1834.6 320.9 L1830.4 327.4 L1826.3 333.9 L1822.3 340.6 L1818.4 347.2 L1814.6 354.0 L1811.0 360.8 L1807.4 367.6 L1803.9 374.6 L1800.6 381.5 L1797.3 388.6 L1794.2 395.6 L1791.1 402.8 L1788.1 409.9 L1785.3 417.2 L1782.5 424.4 L1779.8 431.7 L1777.2 439.1 L1774.7 446.5 L1772.2 453.9 L1769.9 461.4 L1767.6 468.9 L1765.4 476.4 L1763.3 484.0 L1761.2 491.6 L1759.2 499.2 L1757.3 506.8 L1755.5 514.5 L1753.7 522.2 L1752.0 529.9 L1750.3 537.6 L1748.7 545.4 L1747.2 553.1 L1745.7 560.9 L1744.3 568.7 L1742.9 576.5 L1741.6 584.3 L1740.4 592.1 L1739.2 599.9 L1738.0 607.7 L1736.9 615.5 L1735.8 623.3 L1734.7 631.1 L1733.8 639.0 L1732.8 646.8 L1731.9 654.6 L1731.1 662.4 L1730.3 670.2 L1729.6 678.1 L1728.9 685.9 L1728.3 693.7 L1727.7 701.5 L1727.2 709.4 L1726.7 717.2 L1726.3 725.0 L1725.9 732.8 L1725.7 740.6 L1725.4 748.4 L1725.2 756.2 L1725.1 764.0 L1725.1 771.8 L1725.1 779.6 L1725.1 787.4 L1725.2 795.2 L1725.4 803.0 L1725.7 810.8 L1726.0 818.5 L1726.4 826.3 L1726.8 834.1 L1727.3 841.8 L1727.9 849.6 L1728.5 857.3 L1729.2 865.1 L1730.0 872.8 L1730.9 880.5 L1731.8 888.2 L1732.8 895.9 L1733.8 903.6 L1735.0 911.3 L1736.2 919.0 L1737.5 926.7 L1738.8 934.4 L1740.3 942.0 L1741.8 949.7 L1743.4 957.3 L1745.0 964.9 L1746.8 972.6 L1748.6 980.2 L1750.5 987.8 L1752.4 995.3 L1754.5 1002.9 L1756.6 1010.5 L1758.9 1018.0 L1761.2 1025.6 L1763.6 1033.1 L1766.0 1040.6 L1768.6 1048.1 L1771.2 1055.6 L1773.9 1063.1 L1776.8 1070.5 L1779.7 1078.0 L1782.7 1085.4 L1785.7 1092.8 L1788.9 1100.2 L1792.2 1107.6 L1795.5 1115.0 L1799.0 1122.3 L1802.6 1129.5 L1806.2 1136.7 L1810.0 1143.8 L1814.0 1150.8 L1818.0 1157.7 L1822.2 1164.5 L1826.6 1171.1 L1831.0 1177.5 L1835.7 1183.8 L1840.5 1189.9 L1845.5 1195.8 L1850.6 1201.5 L1855.9 1207.0 L1861.4 1212.2 L1867.1 1217.2 L1873.0 1221.9 L1879.1 1226.3 L1885.4 1230.4 L1892.0 1234.2 L1898.7 1237.7 L1905.7 1240.8 L1912.9 1243.6 L1920.3 1246.0 L1927.9 1248.0 L1935.7 1249.5 L1943.5 1250.5 L1951.2 1250.9Z" fill="none" stroke="#3370b5" stroke-width="6.0" stroke-linecap="round" stroke-linejoin="round"/>
<path d="M2162.2 305.1 L2165.6 312.3 L2168.9 319.6 L2171.9 326.9 L2174.9 334.4 L2177.7 341.9 L2180.4 349.5 L2182.9 357.2 L2185.3 364.9 L2187.6 372.7 L2189.8 380.5 L2191.9 388.4 L2193.8 396.3 L2195.7 404.3 L2197.4 412.3 L2199.1 420.4 L2200.6 428.4 L2202.1 436.5 L2203.4 444.6 L2204.7 452.8 L2205.9 460.9 L2207.0 469.1 L2208.1 477.2 L2209.1 485.4 L2210.0 493.5 L2210.8 501.7 L2211.6 509.8 L2212.3 518.0 L2213.0 526.1 L2213.6 534.2 L2214.2 542.3 L2214.6 550.4 L2215.1 558.5 L2215.4 566.5 L2215.8 574.6 L2216.0 582.6 L2216.2 590.7 L2216.4 598.7 L2216.4 606.7 L2216.5 614.8 L2216.4 622.8 L2216.4 630.8 L2216.2 638.8 L2216.0 646.7 L2215.8 654.7 L2215.5 662.7 L2215.1 670.7 L2214.7 678.6 L2214.2 686.6 L2213.7 694.5 L2213.1 702.5 L2212.5 710.4 L2211.8 718.3 L2211.1 726.3 L2210.3 734.2 L2209.4 742.1 L2208.5 750.0 L2207.6 757.9 L2206.6 765.9 L2205.5 773.8 L2204.4 781.7 L2203.3 789.6 L2202.1 797.5 L2200.8 805.4 L2199.5 813.2 L2198.2 821.1 L2196.8 829.0 L2195.3 836.9 L2193.8 844.8 L2192.2 852.7 L2190.6 860.6 L2189.0 868.4 L2187.3 876.3 L2185.5 884.2 L2183.8 892.1 L2181.9 900.0 L2180.0 907.8 L2178.1 915.7 L2176.1 923.6 L2174.1 931.5 L2172.0 939.4 L2169.9 947.3 L2167.7 955.2 L2165.5 963.1 L2163.3 970.9 L2161.0 978.8 L2158.6 986.7 L2156.2 994.6 L2153.8 1002.6 L2151.3 1010.5 L2148.8 1018.4 L2146.2 1026.3 L2143.5 1034.1 L2140.8 1042.0 L2138.1 1049.8 L2135.2 1057.6 L2132.3 1065.3 L2129.3 1073.0 L2126.1 1080.6 L2122.9 1088.2 L2119.6 1095.7 L2116.2 1103.1 L2112.7 1110.4 L2109.1 1117.6 L2105.4 1124.8 L2101.5 1131.8 L2097.5 1138.7 L2093.4 1145.5 L2089.1 1152.2 L2084.7 1158.8 L2080.2 1165.2 L2075.4 1171.4 L2070.6 1177.6 L2065.6 1183.5 L2060.4 1189.3" fill="none" stroke="#6c2b8f" stroke-width="5.5" stroke-linecap="round" stroke-linejoin="round"/>
<path d="M1951.3 1254.0 L1943.5 1252.5 L1935.7 1250.7 L1928.0 1248.5 L1920.3 1245.9 L1912.7 1243.0 L1905.2 1239.7 L1897.9 1236.1 L1890.8 1232.2 L1883.8 1228.0 L1877.1 1223.5 L1870.6 1218.8 L1864.4 1213.8 L1858.4 1208.5 L1852.6 1203.0 L1847.0 1197.3 L1841.6 1191.4" fill="none" stroke="#6c2b8f" stroke-width="5.5" stroke-linecap="round" stroke-linejoin="round"/>
<defs><linearGradient id="arrg" gradientUnits="objectBoundingBox" x1="0" y1="0" x2="1" y2="0.3"><stop offset="0" stop-color="#4260ab"/><stop offset="0.45" stop-color="#3652a2"/><stop offset="1" stop-color="#4f76c6"/></linearGradient></defs>
<path d="M826.5 298.0 C827.9 292.8 829.8 276.1 834.7 266.8 C839.6 257.5 847.7 248.5 855.8 242.1 C863.9 235.7 874.1 230.9 883.3 228.3 C892.5 225.7 901.6 226.5 910.8 226.5 C920.0 226.5 929.1 226.2 938.3 228.3 C947.5 230.4 957.4 234.4 965.8 239.3 C974.2 244.2 983.0 251.9 988.8 257.7 C994.6 263.5 997.7 267.6 1000.7 274.2 C1003.8 280.8 1006.0 293.3 1007.1 297.1 L1019.9 298.0 L996.5 319.1 L973.2 291.1 L984.2 292.5 L984.2 292.5 C983.4 289.4 982.7 280.3 979.6 274.2 C976.5 268.1 971.1 261.3 965.8 255.8 C960.4 250.3 954.4 244.9 947.5 241.2 C940.6 237.5 932.2 234.7 924.6 233.8 C917.0 232.9 909.3 233.5 901.7 235.7 C894.1 237.8 885.7 241.8 878.8 246.7 C871.9 251.6 865.3 256.3 860.4 265.0 C855.5 273.7 851.2 293.2 849.4 298.9 Z" fill="url(#arrg)"/>
<path d="M1912.0 333.8 C1913.4 328.6 1915.3 311.9 1920.2 302.6 C1925.1 293.3 1933.2 284.3 1941.3 277.9 C1949.4 271.5 1959.6 266.7 1968.8 264.1 C1978.0 261.5 1987.1 262.3 1996.3 262.3 C2005.5 262.3 2014.6 262.0 2023.8 264.1 C2033.0 266.2 2042.9 270.2 2051.3 275.1 C2059.7 280.0 2068.5 287.7 2074.3 293.5 C2080.1 299.3 2083.1 303.4 2086.2 310.0 C2089.2 316.6 2091.5 329.1 2092.6 332.9 L2105.4 333.8 L2082.0 354.9 L2058.7 326.9 L2069.7 328.3 L2069.7 328.3 C2068.9 325.2 2068.2 316.1 2065.1 310.0 C2062.0 303.9 2056.7 297.1 2051.3 291.6 C2046.0 286.1 2039.9 280.7 2033.0 277.0 C2026.1 273.3 2017.7 270.5 2010.1 269.6 C2002.5 268.7 1994.8 269.4 1987.2 271.5 C1979.6 273.6 1971.2 277.6 1964.3 282.5 C1957.4 287.4 1950.8 292.1 1945.9 300.8 C1941.0 309.5 1936.7 329.1 1934.9 334.7 Z" fill="url(#arrg)"/>
<circle cx="854.2" cy="1261.8" r="12" fill="#e8262b"/>
<circle cx="649.3" cy="1059.3" r="11.8" fill="#5cbf2f"/>
<circle cx="1028.4" cy="1088.9" r="11" fill="#2c4ea6"/>
<circle cx="1951.4" cy="1253.6" r="12" fill="#e8262b"/>
<circle cx="2135" cy="281.2" r="11" fill="#2c4ea6"/>
</svg></body></html>
